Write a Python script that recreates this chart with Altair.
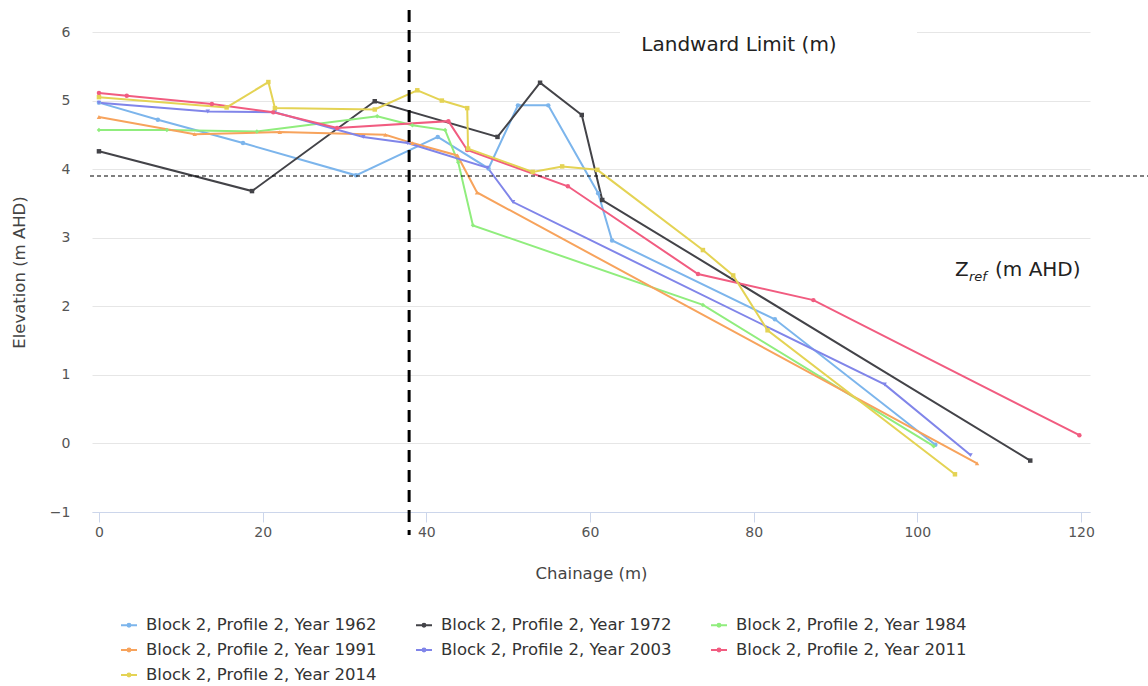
import altair as alt
import pandas as pd

# ---------------- data ----------------
series_names = [
    "Block 2, Profile 2, Year 1962",
    "Block 2, Profile 2, Year 1972",
    "Block 2, Profile 2, Year 1984",
    "Block 2, Profile 2, Year 1991",
    "Block 2, Profile 2, Year 2003",
    "Block 2, Profile 2, Year 2011",
    "Block 2, Profile 2, Year 2014",
]
colors = ["#7cb5ec", "#434348", "#90ed7d", "#f7a35c", "#8085e9", "#f15c80", "#e4d354"]
marker_shapes = ["circle", "square", "diamond", "triangle-up", "triangle-down", "circle", "square"]

x_1962 = [0, 7.2, 17.6, 31.4, 41.4, 47.6, 51.2, 54.9, 61.0, 62.7, 82.6, 102.2]
y_1962 = [4.97, 4.72, 4.38, 3.91, 4.47, 4.01, 4.93, 4.93, 3.65, 2.96, 1.81, -0.02]

x_1972 = [0, 18.7, 33.7, 48.7, 53.9, 59.0, 61.5, 113.8]
y_1972 = [4.26, 3.68, 4.99, 4.47, 5.26, 4.79, 3.55, -0.25]

x_1984 = [0, 8.3, 19.3, 34.0, 38.3, 42.3, 43.9, 45.7, 73.8, 102.0]
y_1984 = [4.57, 4.57, 4.55, 4.77, 4.64, 4.57, 4.10, 3.18, 2.02, -0.04]

x_1991 = [0, 11.7, 22.1, 35.0, 38.3, 43.8, 46.2, 107.3]
y_1991 = [4.76, 4.51, 4.54, 4.50, 4.38, 4.20, 3.66, -0.29]

x_2003 = [0, 13.3, 21.5, 32.3, 37.7, 47.5, 50.6, 96.0, 106.5]
y_2003 = [4.97, 4.84, 4.83, 4.47, 4.38, 4.02, 3.52, 0.86, -0.17]

x_2011 = [0, 3.4, 13.8, 21.3, 29.1, 42.7, 45.0, 57.3, 73.2, 87.3, 119.8]
y_2011 = [5.11, 5.07, 4.95, 4.83, 4.60, 4.70, 4.28, 3.75, 2.47, 2.09, 0.12]

x_2014 = [0, 15.6, 20.7, 21.5, 33.7, 38.9, 41.9, 45.0, 45.1, 53.0, 56.6, 60.9, 73.8, 77.5, 81.7, 104.6]
y_2014 = [5.05, 4.90, 5.27, 4.89, 4.87, 5.15, 5.00, 4.89, 4.30, 3.96, 4.04, 3.99, 2.82, 2.45, 1.65, -0.45]

landward_limit = 37.9   # m (vertical dashed line)
z_ref = 3.9             # m AHD (horizontal dashed line)

x_ticks = [0, 20, 40, 60, 80, 100, 120]
y_ticks = [-1, 0, 1, 2, 3, 4, 5, 6]

xs = [x_1962, x_1972, x_1984, x_1991, x_2003, x_2011, x_2014]
ys = [y_1962, y_1972, y_1984, y_1991, y_2003, y_2011, y_2014]

rows = []
for k, (name, xv, yv) in enumerate(zip(series_names, xs, ys)):
    for i, (a, b) in enumerate(zip(xv, yv)):
        rows.append({"series": name, "marker": "m%d" % k, "x": a, "y": b, "i": i})
df = pd.DataFrame(rows)

FONT = "DejaVu Sans"

x_scale = alt.Scale(domain=[-0.85, 121.1], nice=False, zero=False)
y_scale = alt.Scale(domain=[-1, 6], nice=False, zero=False)
color_scale = alt.Scale(domain=series_names, range=colors)
shape_scale = alt.Scale(domain=["m%d" % k for k in range(len(series_names))], range=marker_shapes)

# legend symbol: short line with a small marker dot in the middle
legend_symbol = "M-1,0H1M-0.18,0A0.18,0.18,0,1,0,0.18,0A0.18,0.18,0,1,0,-0.18,0Z"

legend = alt.Legend(
    title=None, orient="none", legendX=28, legendY=584, columns=3,
    direction="horizontal", symbolType=legend_symbol, symbolStrokeWidth=2,
    symbolSize=256, labelFont=FONT, labelFontSize=16.5, labelColor="#333333",
    labelLimit=400, columnPadding=35, rowPadding=7, labelOffset=8,
)

x_enc = alt.X("x:Q", scale=x_scale,
              axis=alt.Axis(values=x_ticks, title="Chainage (m)", grid=False,
                            domainColor="#ccd6eb", tickColor="#ccd6eb", tickSize=10,
                            labelFont=FONT, labelFontSize=14, labelColor="#555555",
                            labelPadding=3, titleFont=FONT, titleFontSize=16.5,
                            titleFontWeight="normal", titleColor="#444444",
                            titlePadding=26))
y_enc = alt.Y("y:Q", scale=y_scale,
              axis=alt.Axis(values=y_ticks, format="d", title="Elevation (m AHD)", grid=True,
                            gridColor="#e6e6e6", domain=False, ticks=False,
                            labelFont=FONT, labelFontSize=14, labelColor="#555555",
                            labelPadding=22, titleFont=FONT, titleFontSize=16.5,
                            titleFontWeight="normal", titleColor="#444444",
                            titlePadding=22))

lines = alt.Chart(df).mark_line(strokeWidth=2).encode(
    x=x_enc, y=y_enc,
    color=alt.Color("series:N", scale=color_scale, legend=legend),
    order=alt.Order("i:Q"),
)

points = alt.Chart(df).mark_point(filled=True, size=20, opacity=1).encode(
    x="x:Q", y="y:Q",
    color=alt.Color("series:N", scale=color_scale, legend=None),
    shape=alt.Shape("marker:N", scale=shape_scale, legend=None),
)

# white box behind the Landward Limit label (hides grid line)
label_box = alt.Chart(pd.DataFrame({"a": [0]})).mark_rect(color="white").encode(
    x=alt.value(528), x2=alt.value(825), y=alt.value(-4), y2=alt.value(4)
)

vline = alt.Chart(pd.DataFrame({"a": [0]})).mark_rule(
    color="black", strokeWidth=3, strokeDash=[12, 8]
).encode(x=alt.datum(landward_limit), y=alt.value(-22), y2=alt.value(503))

hline = alt.Chart(pd.DataFrame({"a": [0]})).mark_rule(
    color="black", strokeWidth=1.2, strokeDash=[4, 3]
).encode(y=alt.datum(z_ref), x=alt.value(-2), x2=alt.value(1056))

txt_landward = alt.Chart(pd.DataFrame({"a": [0]})).mark_text(
    text="Landward Limit (m)", font=FONT, fontSize=20, color="#222222",
    align="center", baseline="middle"
).encode(x=alt.value(647), y=alt.value(13))

z_main = alt.Chart(pd.DataFrame({"a": [0]})).mark_text(
    text="Z", font=FONT, fontSize=20, color="#222222", align="left", baseline="middle"
).encode(x=alt.value(863), y=alt.value(238))
z_sub = alt.Chart(pd.DataFrame({"a": [0]})).mark_text(
    text="ref", font=FONT, fontSize=13, fontStyle="italic", color="#222222",
    align="left", baseline="middle"
).encode(x=alt.value(877), y=alt.value(245))
z_rest = alt.Chart(pd.DataFrame({"a": [0]})).mark_text(
    text="(m AHD)", font=FONT, fontSize=20, color="#222222", align="left", baseline="middle"
).encode(x=alt.value(903), y=alt.value(238))

chart = alt.layer(
    label_box, lines, points, hline, vline, txt_landward, z_main, z_sub, z_rest
).resolve_scale(color="shared").properties(
    width=998, height=480,
    autosize=alt.AutoSizeParams(type="none"),
    padding={"left": 92, "top": 32, "right": 58, "bottom": 174},
    background="white",
).configure_view(stroke=None)

chart.save("out.html", embed_options={"renderer": "svg", "actions": False})
